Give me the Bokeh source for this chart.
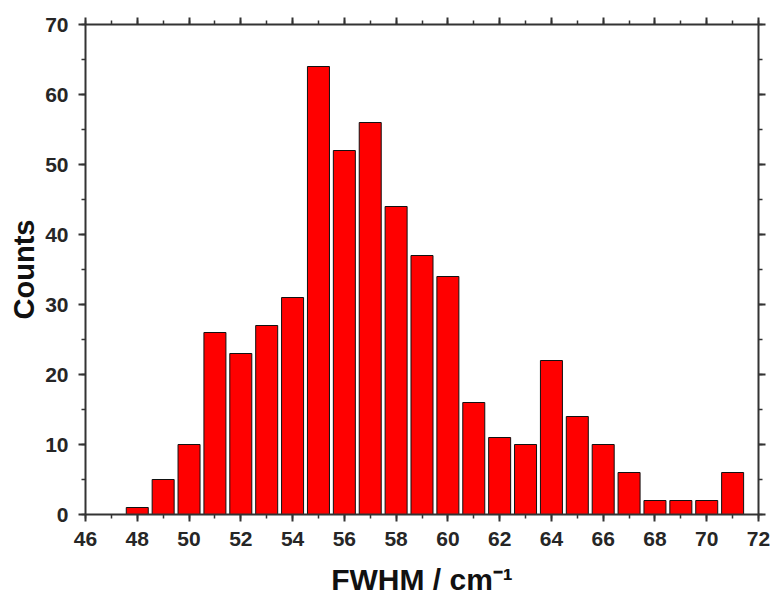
from bokeh.plotting import figure
from bokeh.models import LinearAxis, Range1d, FixedTicker
from bokeh.embed import file_html
from bokeh.resources import INLINE

fwhm_bins = [48, 49, 50, 51, 52, 53, 54, 55, 56, 57, 58, 59, 60, 61, 62, 63, 64, 65, 66, 67, 68, 69, 70, 71]
counts = [1, 5, 10, 26, 23, 27, 31, 64, 52, 56, 44, 37, 34, 16, 11, 10, 22, 14, 10, 6, 2, 2, 2, 6]
x_ticks = list(range(46, 73, 2))
x_minor = list(range(46, 73, 1))
y_ticks = list(range(0, 71, 10))
y_minor = list(range(0, 71, 5))
x_title = "FWHM / cm\u207b\u00b9"
y_title = "Counts"

p = figure(width=773, height=600, frame_width=673, frame_height=490,
           output_backend="svg", toolbar_location=None,
           x_range=Range1d(46, 72), y_range=Range1d(0, 70),
           min_border_left=85, min_border_top=24, min_border_right=15, min_border_bottom=86)
p.grid.visible = False
p.outline_line_color = None
p.background_fill_color = "white"
p.border_fill_color = "white"

p.vbar(x=fwhm_bins, top=counts, width=0.85, bottom=0,
       fill_color="#ff0000", line_color="#111111", line_width=1)

top_axis = LinearAxis()
right_axis = LinearAxis()
p.add_layout(top_axis, "above")
p.add_layout(right_axis, "right")

font = "Liberation Sans"
for ax in p.below + p.above:
    ax.ticker = FixedTicker(ticks=x_ticks, minor_ticks=x_minor)
for ax in p.left + p.right:
    ax.ticker = FixedTicker(ticks=y_ticks, minor_ticks=y_minor)
for ax in p.below + p.above + p.left + p.right:
    ax.axis_line_width = 2
    ax.axis_line_color = "#333333"
    ax.major_tick_line_color = "#333333"
    ax.minor_tick_line_color = "#333333"
    ax.major_tick_line_width = 2
    ax.minor_tick_line_width = 1.5
    ax.major_tick_out = 7
    ax.major_tick_in = 0
    ax.minor_tick_out = 4
    ax.minor_tick_in = 0
    ax.major_label_text_font = font
    ax.major_label_text_font_style = "bold"
    ax.major_label_text_font_size = "21px"
    ax.major_label_text_color = "#262626"

top_axis.major_label_overrides = {t: "" for t in x_ticks}
right_axis.major_label_overrides = {t: "" for t in y_ticks}
p.below[0].major_label_standoff = 10
p.left[0].major_label_standoff = 10

p.left[0].axis_label = y_title
p.left[0].axis_label_text_font = font
p.left[0].axis_label_text_font_style = "bold"
p.left[0].axis_label_text_font_size = "29px"
p.left[0].axis_label_text_color = "#111111"
p.left[0].axis_label_standoff = 2

p.below[0].axis_label = x_title
p.below[0].axis_label_text_font = font
p.below[0].axis_label_text_font_style = "bold"
p.below[0].axis_label_text_font_size = "30px"
p.below[0].axis_label_text_color = "#111111"
p.below[0].axis_label_standoff = 14

open("out.html", "w").write(file_html(p, INLINE))
